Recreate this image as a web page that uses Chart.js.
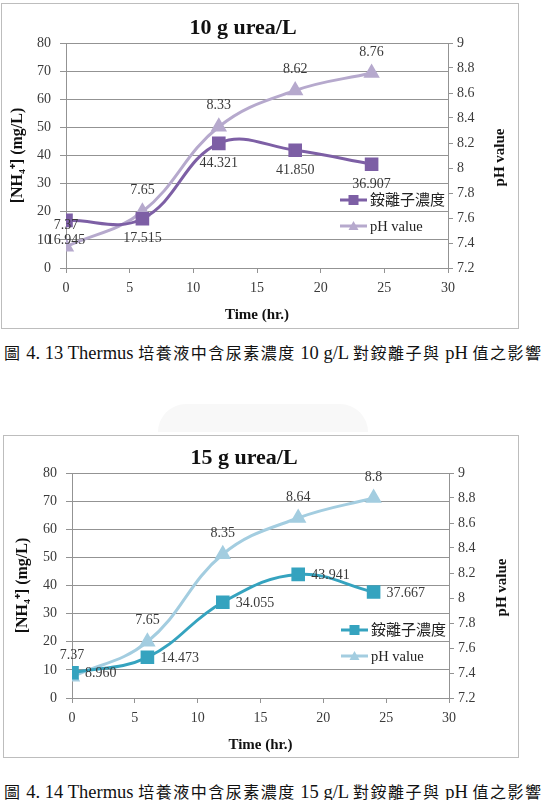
<!DOCTYPE html>
<html lang="zh-Hant">
  <head>
    <meta charset="UTF-8" />
    <title>Thermus urea</title>
    <script src="https://cdn.jsdelivr.net/npm/chart.js"></script>
    <style>
      body { margin: 0; width: 546px; height: 800px; background: #fff; position: relative; overflow: hidden; }
      .box { position: absolute; border: 1px solid #bdbdbd; }
      .wrap { position: absolute; left: 0; width: 546px; height: 335px; }
      .title { position: absolute; width: 300px; text-align: center; font: bold 22px "Liberation Serif", serif; color: #111; line-height: 24px; }
      .caption { position: absolute; left: 4px; white-space: nowrap; font: 18.5px "Liberation Serif", serif; color: #111; line-height: 20px; }
      .caption .cjk { font-family: "Noto Sans CJK TC", sans-serif; font-size: 16px; letter-spacing: 1.5px; }
      .seal { position: absolute; left: 158px; top: 404px; width: 210px; height: 28px; background: #f8f8f8; border-radius: 100px 100px 0 0; }
    </style>
  </head>
  <body>
    <div class="box" style="left:1px; top:3px; width:516px; height:324px"></div>
    <div class="wrap" style="top:0"><canvas id="chart10" width="546" height="335"></canvas></div>
    <div class="title" style="left:93px; top:15px">10 g urea/L</div>
    <div class="caption" style="top:342px"><span class="cjk">圖</span> 4. 13 Thermus <span class="cjk">培養液中含尿素濃度</span> 10 g/L <span class="cjk">對銨離子與</span> pH <span class="cjk">值之影響</span></div>

    <div class="seal"></div>

    <div class="box" style="left:3px; top:435px; width:514px; height:321px"></div>
    <div class="wrap" style="top:430px"><canvas id="chart15" width="546" height="335"></canvas></div>
    <div class="title" style="left:94px; top:445px">15 g urea/L</div>
    <div class="caption" style="top:781px"><span class="cjk">圖</span> 4. 14 Thermus <span class="cjk">培養液中含尿素濃度</span> 15 g/L <span class="cjk">對銨離子與</span> pH <span class="cjk">值之影響</span></div>

    <script>
      // sampling times (hr.)
      const hours = [0, 6, 12, 18, 24];

      // 10 g urea/L
      const nh4_10 = [16.945, 17.515, 44.321, 41.85, 36.907];
      const ph_10 = [7.37, 7.65, 8.33, 8.62, 8.76];

      // 15 g urea/L
      const nh4_15 = [8.96, 14.473, 34.055, 43.941, 37.667];
      const ph_15 = [7.37, 7.65, 8.35, 8.64, 8.8];

      const seriesNames = ["銨離子濃度", "pH value"];
      const xTicks = [0, 5, 10, 15, 20, 25, 30];
      const nh4Ticks = [0, 10, 20, 30, 40, 50, 60, 70, 80];
      const phTicks = [7.2, 7.4, 7.6, 7.8, 8, 8.2, 8.4, 8.6, 8.8, 9];

      const serif = "'Liberation Serif', 'Noto Sans CJK TC', serif";
      const gridColor = "#939393";
      const textColor = "#3a3a3a";

      // data labels, legend inside the plot and the right axis title
      const extras = {
        id: "extras",
        afterDatasetsDraw(chart, args, opts) {
          const ctx = chart.ctx;
          const area = chart.chartArea;
          ctx.save();
          ctx.font = "14px " + serif;
          ctx.fillStyle = textColor;
          chart.data.datasets.forEach((ds, i) => {
            const meta = chart.getDatasetMeta(i);
            const pos = opts.labelPos[i];
            meta.data.forEach((pt, j) => {
              const txt = i === 0 ? ds.data[j].y.toFixed(3) : String(ds.data[j].y);
              ctx.textBaseline = "middle";
              if (pos === "below") {
                ctx.textAlign = "center";
                ctx.fillText(txt, pt.x, pt.y + 20);
              } else if (pos === "above") {
                ctx.textAlign = "center";
                ctx.fillText(txt, pt.x, pt.y - 21);
              } else {
                ctx.textAlign = "left";
                ctx.fillText(txt, pt.x + 13, pt.y + 1);
              }
            });
          });

          // legend
          chart.data.datasets.forEach((ds, i) => {
            const y = opts.legendY + i * 26;
            const x = opts.legendX;
            ctx.strokeStyle = ds.borderColor;
            ctx.fillStyle = ds.borderColor;
            ctx.lineWidth = 3;
            ctx.beginPath();
            ctx.moveTo(x, y);
            ctx.lineTo(x + 27, y);
            ctx.stroke();
            const cx = x + 13.5;
            if (ds.pointStyle === "rect") {
              ctx.fillRect(cx - 5, y - 5, 10, 10);
            } else {
              ctx.beginPath();
              ctx.moveTo(cx, y - 5);
              ctx.lineTo(cx + 5, y + 4);
              ctx.lineTo(cx - 5, y + 4);
              ctx.closePath();
              ctx.fill();
            }
            ctx.fillStyle = "#222";
            ctx.textAlign = "left";
            ctx.textBaseline = "middle";
            ctx.font = (i === 0 ? "15px " : "14.5px ") + serif;
            ctx.fillText(ds.label, x + 30, y + 1);
          });

          // right axis title, reading bottom to top
          ctx.translate(opts.rightTitleX, (area.top + area.bottom) / 2 + 2);
          ctx.rotate(-Math.PI / 2);
          ctx.font = "bold 15px " + serif;
          ctx.fillStyle = "#111";
          ctx.textAlign = "center";
          ctx.textBaseline = "middle";
          ctx.fillText("pH value", 0, 0);
          ctx.restore();
        },
      };

      function makeChart(id, nh4, ph, colors, layout) {
        const ctx = document.getElementById(id).getContext("2d");
        return new Chart(ctx, {
          type: "line",
          data: {
            datasets: [
              {
                label: seriesNames[0],
                data: hours.map((h, i) => ({ x: h, y: nh4[i] })),
                yAxisID: "y",
                borderColor: colors[0],
                backgroundColor: colors[0],
                borderWidth: 3,
                pointStyle: "rect",
                pointRadius: 7.5,
                pointHoverRadius: 7.5,
                tension: 0.4,
              },
              {
                label: seriesNames[1],
                data: hours.map((h, i) => ({ x: h, y: ph[i] })),
                yAxisID: "y2",
                borderColor: colors[1],
                backgroundColor: colors[1],
                borderWidth: 3,
                pointStyle: "triangle",
                pointRadius: 6.5,
                pointHoverRadius: 6.5,
                tension: 0.4,
              },
            ],
          },
          options: {
            responsive: false,
            animation: false,
            devicePixelRatio: 1,
            layout: { padding: { top: 43, left: 0, right: 0, bottom: 0 } },
            plugins: {
              legend: { display: false },
              tooltip: { enabled: false },
              extras: {
                labelPos: layout.labelPos,
                legendX: layout.legendX,
                legendY: 200,
                rightTitleX: layout.rightTitleX,
              },
            },
            scales: {
              x: {
                type: "linear",
                min: 0,
                max: 30,
                afterFit(s) { s.height = 67; },
                afterBuildTicks(s) { s.ticks = xTicks.map((v) => ({ value: v })); },
                grid: { drawOnChartArea: false, drawTicks: true, tickLength: 5, color: gridColor },
                border: { color: gridColor },
                ticks: { font: { family: serif, size: 14 }, color: textColor, padding: 7 },
                title: {
                  display: true,
                  text: "Time (hr.)",
                  font: { family: serif, size: 15, weight: "bold" },
                  color: "#111",
                  padding: { top: 0, bottom: 11 },
                },
              },
              y: {
                position: "left",
                min: 0,
                max: 80,
                afterFit(s) { s.width = layout.left; },
                afterBuildTicks(s) { s.ticks = nh4Ticks.map((v) => ({ value: v })); },
                grid: { color: gridColor, tickLength: 6 },
                border: { color: gridColor },
                ticks: { font: { family: serif, size: 14 }, color: textColor, padding: 9 },
                title: {
                  display: true,
                  text: "[NH\u2084\u207A] (mg/L)",
                  font: { family: serif, size: 16, weight: "bold" },
                  color: "#111",
                  padding: { top: layout.leftTitlePad, bottom: 0 },
                },
              },
              y2: {
                position: "right",
                min: 7.2,
                max: 9,
                afterFit(s) { s.width = 546 - layout.right; },
                afterBuildTicks(s) { s.ticks = phTicks.map((v) => ({ value: v })); },
                grid: { drawOnChartArea: false, color: gridColor, tickLength: 5 },
                border: { color: gridColor },
                ticks: {
                  font: { family: serif, size: 14 },
                  color: textColor,
                  padding: 4,
                  callback: (v) => String(Number(v.toFixed(1))),
                },
              },
            },
          },
          plugins: [extras],
        });
      }

      makeChart("chart10", nh4_10, ph_10, ["#7d5fa5", "#b6a9cd"], {
        left: 66,
        right: 448,
        leftTitlePad: 8,
        rightTitleX: 500,
        legendX: 340,
        labelPos: ["below", "above"],
      });

      makeChart("chart15", nh4_15, ph_15, ["#35a3bf", "#a3cde0"], {
        left: 72,
        right: 449,
        leftTitlePad: 13,
        rightTitleX: 502,
        legendX: 341,
        labelPos: ["right", "above"],
      });
    </script>
  </body>
</html>
